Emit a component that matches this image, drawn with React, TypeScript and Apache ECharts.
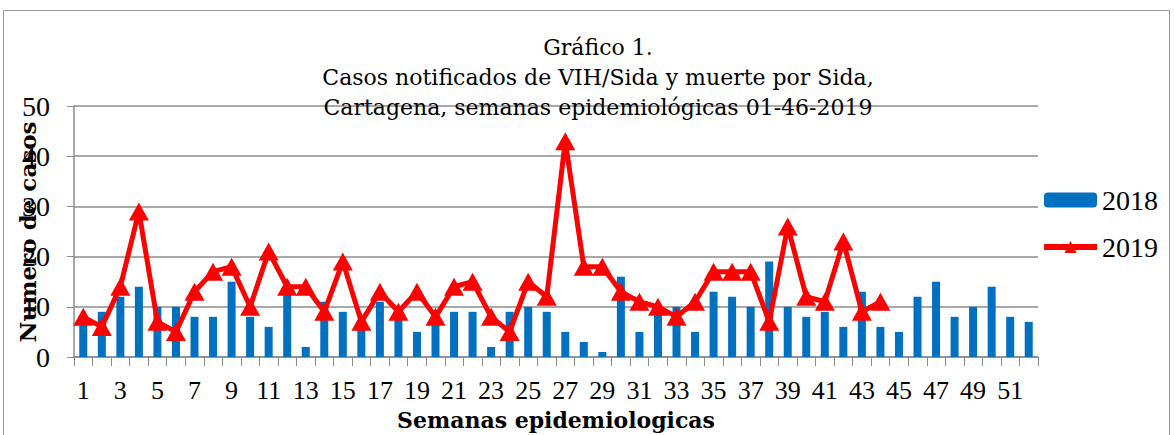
import React, { useEffect, useRef } from "react";
import * as echarts from "echarts";

const weeks: string[] = Array.from({ length: 52 }, (_, i) => String(i + 1));
const cases2018: number[] = [
  7, 9, 12, 14, 10, 10, 8, 8, 15, 8,
  6, 13, 2, 11, 9, 7, 11, 8, 5, 7,
  9, 9, 2, 9, 10, 9, 5, 3, 1, 16,
  5, 9, 10, 5, 13, 12, 10, 19, 10, 8,
  9, 6, 13, 6, 5, 12, 15, 8, 10, 14,
  8, 7,
];
const cases2019: number[] = [
  8, 6, 14, 29, 7, 5, 13, 17, 18, 10,
  21, 14, 14, 9, 19, 7, 13, 9, 13, 8,
  14, 15, 8, 5, 15, 12, 43, 18, 18, 13,
  11, 10, 8, 11, 17, 17, 17, 7, 26, 12,
  11, 23, 9, 11,
];
const titleLines: string[] = [
  "Gráfico 1.",
  "Casos notificados de VIH/Sida y muerte por Sida,",
  "Cartagena, semanas epidemiológicas 01-46-2019",
];
const yAxisTitle = "Numero de casos";
const xAxisTitle = "Semanas epidemiologicas";

const NUM_FONT = "'Liberation Serif', serif";
const TXT_FONT = "'DejaVu Serif', serif";

export default function App() {
  const ref = useRef<HTMLDivElement>(null);
  useEffect(() => {
    if (!ref.current) return;
    const chart = echarts.init(ref.current, undefined, { renderer: "svg" });
    chart.setOption({
      animation: false,
      backgroundColor: "#ffffff",
      textStyle: { fontFamily: NUM_FONT },
      graphic: [
        {
          type: "rect",
          shape: { x: 3.5, y: 10.5, width: 1166, height: 440 },
          style: { fill: "none", stroke: "#9a9a9a", lineWidth: 1 },
          silent: true,
          z: -1,
        },
        ...titleLines.map((t, i) => ({
          type: "text",
          x: 598,
          y: 47 + i * 30,
          style: {
            text: t,
            fill: "#000",
            font: `22px ${TXT_FONT}`,
            align: "center",
            verticalAlign: "middle",
          },
          z: 10,
        })),
        {
          type: "text",
          x: 27,
          y: 232,
          rotation: Math.PI / 2,
          style: {
            text: yAxisTitle,
            fill: "#000",
            font: `bold 23px ${TXT_FONT}`,
            align: "center",
            verticalAlign: "middle",
          },
          z: 10,
        },
      ],
      legend: {
        orient: "vertical",
        left: 1041,
        top: 186,
        padding: 0,
        itemWidth: 53,
        itemHeight: 15,
        itemGap: 19,
        textStyle: { fontSize: 28, color: "#000", fontFamily: NUM_FONT },
        data: [
          { name: "2018" },
          { name: "2019", lineStyle: { width: 6, color: "#FF0000" }, itemStyle: { color: "#FF0000" } },
        ],
      },
      grid: { left: 74, right: 136, top: 106, bottom: 78, containLabel: false, outerBoundsMode: "none" },
      xAxis: {
        type: "category",
        data: weeks,
        boundaryGap: true,
        name: xAxisTitle,
        nameLocation: "middle",
        nameGap: 52,
        nameTextStyle: { fontSize: 22, fontWeight: "bold", color: "#000", fontFamily: TXT_FONT },
        axisLine: { lineStyle: { color: "#8c8c8c", width: 1.5 } },
        axisTick: { show: true, length: 9, interval: 0, alignWithLabel: false, lineStyle: { color: "#8c8c8c" } },
        axisLabel: { interval: 1, fontSize: 26, color: "#000", margin: 20, fontFamily: NUM_FONT },
      },
      yAxis: {
        type: "value",
        min: 0,
        max: 50,
        interval: 10,
        axisLine: { show: true, lineStyle: { color: "#8c8c8c", width: 1.5 } },
        axisTick: { show: true, length: 7, lineStyle: { color: "#8c8c8c" } },
        axisLabel: { fontSize: 28, color: "#000", margin: 24, fontFamily: NUM_FONT },
        splitLine: { lineStyle: { color: "#8c8c8c", width: 1.5 } },
      },
      series: [
        {
          name: "2018",
          type: "bar",
          data: cases2018,
          barWidth: 8,
          itemStyle: { color: "#0070C0" },
        },
        {
          name: "2019",
          type: "line",
          data: cases2019,
          symbol: "triangle",
          symbolSize: [20, 18],
          showAllSymbol: true,
          lineStyle: { color: "#FF0000", width: 5 },
          itemStyle: { color: "#FF0000" },
          z: 5,
        },
      ],
    });
    return () => chart.dispose();
  }, []);
  return (
    <div
      ref={ref}
      style={{ position: "absolute", left: 0, top: 0, width: 1174, height: 435 }}
    />
  );
}
